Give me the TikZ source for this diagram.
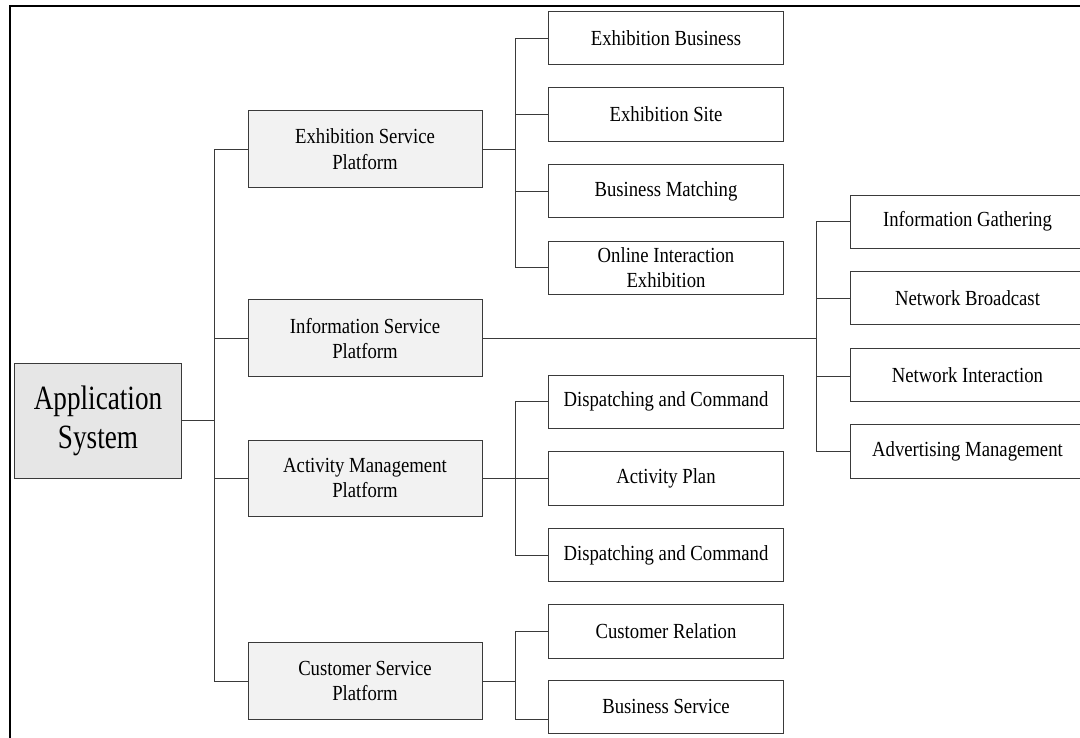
\documentclass[tikz,border=0pt]{standalone}
\usepackage{fontspec}
\setmainfont[FakeStretch=0.87]{Liberation Serif}
\newfontfamily\appfont[FakeStretch=0.8]{Liberation Serif}
\definecolor{appfill}{HTML}{E6E6E6}
\definecolor{platfill}{HTML}{F2F2F2}
\definecolor{linec}{HTML}{3A3A3A}
\tikzset{
  basebox/.style={draw=linec, line width=0.9pt, rectangle, inner sep=0pt, align=center},
  appbox/.style={basebox, fill=appfill, minimum width=167pt, minimum height=115pt, font=\appfont\fontsize{34}{39.3}\selectfont},
  platbox/.style={basebox, fill=platfill, minimum width=234pt, minimum height=76.7pt, font=\fontsize{21.5}{25.3}\selectfont},
  leafbox/.style={basebox, fill=white, minimum width=235pt, minimum height=53.3pt, font=\fontsize{21.5}{25.3}\selectfont},
  conn/.style={draw=linec, line width=0.9pt},
  framel/.style={draw=black, line width=2.6pt}
}
\begin{document}
\begin{tikzpicture}[x=1pt,y=-1pt]
\useasboundingbox (0,0) rectangle (1080,738);
\fill[white] (0,0) rectangle (1080,738);
% frame
\draw[framel] (10,760) -- (10,6) -- (1100,6);
% root
\node[appbox] (app) at (98,420.8) {Application\\System};
% platforms
\node[platbox] (esp) at (365,149) {Exhibition Service\\Platform};
\node[platbox] (isp) at (365,338.3) {Information Service\\Platform};
\node[platbox] (amp) at (365,478.3) {Activity Management\\Platform};
\node[platbox] (csp) at (365,681) {Customer Service\\Platform};
% exhibition leaves
\node[leafbox] (eb) at (666,38.3) {Exhibition Business};
\node[leafbox] (es) at (666,114.5) {Exhibition Site};
\node[leafbox] (bm) at (666,191.3) {Business Matching};
\node[leafbox] (oie) at (666,267.8) {Online Interaction\\Exhibition};
% activity leaves
\node[leafbox] (dc1) at (666,401.7) {Dispatching and Command};
\node[leafbox] (ap) at (666,478.3) {Activity Plan};
\node[leafbox] (dc2) at (666,555) {Dispatching and Command};
% customer leaves
\node[leafbox] (cr) at (666,631.3) {Customer Relation};
\node[leafbox] (bs) at (666,706.7) {Business Service};
% information leaves
\node[leafbox] (ig) at (967.5,221.7) {Information Gathering};
\node[leafbox] (nb) at (967.5,298.3) {Network Broadcast};
\node[leafbox] (ni) at (967.5,375) {Network Interaction};
\node[leafbox] (am) at (967.5,451.3) {Advertising Management};
% trunk coordinates
\coordinate (t0) at (214.5,420.8);
\coordinate (s1) at (515.5,149);
\coordinate (s2) at (816.5,338.3);
\coordinate (s3) at (515.5,478.3);
\coordinate (s4) at (515.5,681);
% main trunk
\draw[conn] (app.east) -- (t0);
\draw[conn] (esp.west) -| (t0) |- (csp.west);
\draw[conn] (isp.west) -| (t0);
\draw[conn] (amp.west) -| (t0);
% exhibition branch
\draw[conn] (esp.east) -- (s1);
\draw[conn] (eb.west) -| (s1) |- (oie.west);
\draw[conn] (es.west) -| (s1);
\draw[conn] (bm.west) -| (s1);
% information branch
\draw[conn] (isp.east) -- (s2);
\draw[conn] (ig.west) -| (s2) |- (am.west);
\draw[conn] (nb.west) -| (s2);
\draw[conn] ([yshift=-1.7pt]ni.west) -| (s2);
% activity branch
\draw[conn] (amp.east) -- (ap.west);
\draw[conn] (dc1.west) -| (s3) |- (dc2.west);
% customer branch
\draw[conn] (csp.east) -- (s4);
\draw[conn] (cr.west) -| (s4) |- ([yshift=-12.6pt]bs.west);
\end{tikzpicture}
\end{document}
